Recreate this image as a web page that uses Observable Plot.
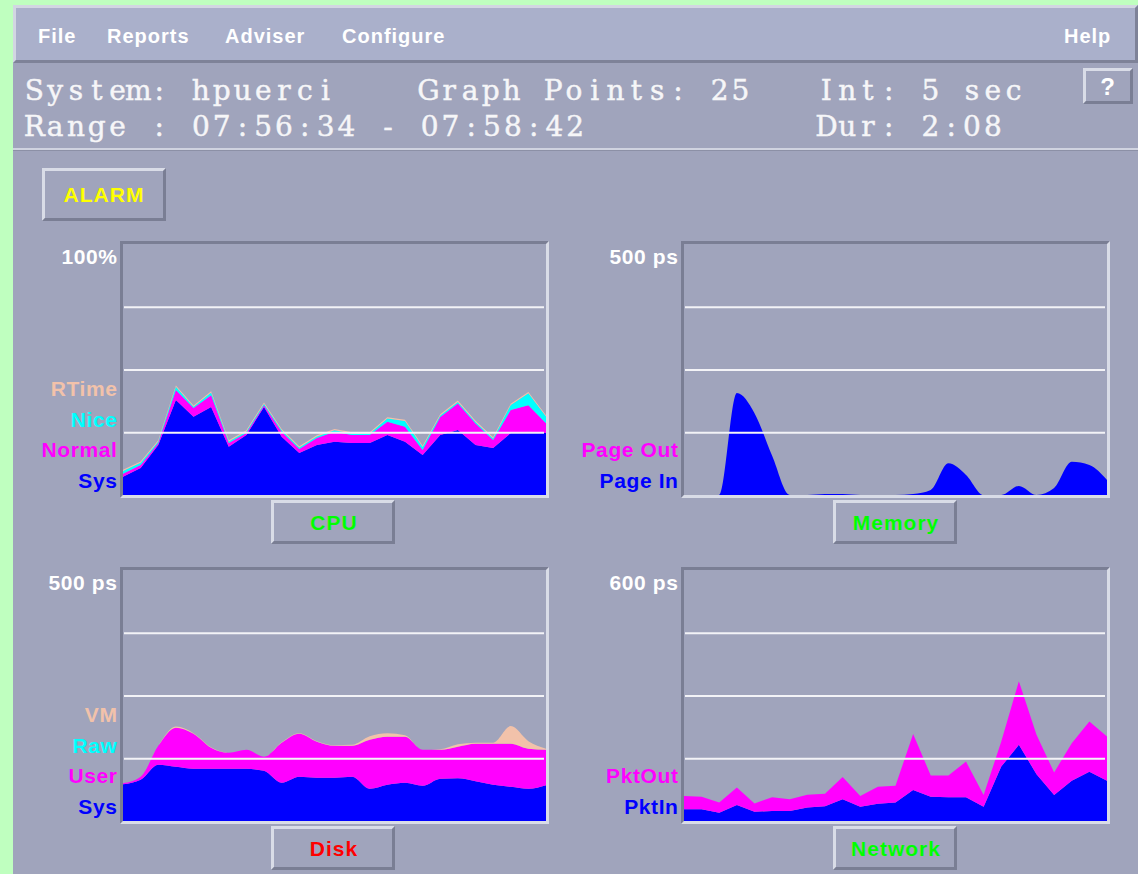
<!DOCTYPE html>
<html><head><meta charset="utf-8">
<script src="https://cdn.jsdelivr.net/npm/d3@7"></script>
<script src="https://cdn.jsdelivr.net/npm/@observablehq/plot@0.6"></script>
<style>
html,body{margin:0;padding:0;}
body{width:1138px;height:874px;background:#bfffbf;position:relative;overflow:hidden;font-family:"Liberation Sans",Arial,sans-serif;}
#chrome{position:absolute;left:0;top:0;}
.panel{position:absolute;z-index:1;}
</style>
</head><body>
<svg id="chrome" width="1138" height="874"></svg>
<script>
// ---------- data ----------
const samples = [0,1,2,3,4,5,6,7,8,9,10,11,12,13,14,15,16,17,18,19,20,21,22,23,24];

const cpuSeries = ["Sys","Normal","Nice","RTime"];
const cpuSys    = [7.3,10.8,19.9,37.8,31.2,35.1,19.2,23.9,35.1,23.2,16.7,19.9,21.2,20.7,20.7,23.9,21.2,15.9,23.9,25.9,19.9,18.7,24.7,25.2,24.7];
const cpuNormal = [1.2,1.2,0.8,4.0,3.5,4.6,1.5,0.8,0.7,2.0,1.6,2.8,4.0,3.2,3.2,5.3,6.0,2.0,7.2,10.6,8.6,3.2,9.2,10.6,3.9];
const cpuNice   = [1.1,0.8,0.6,1.3,0.5,1.1,0.6,0.6,0.6,0.6,0.6,0.6,0.6,0.6,0.6,1.3,2.3,1.2,0.6,0.6,0.6,0.6,2.0,4.7,2.7];
const cpuRTime  = [0.5,0.5,0.5,0.5,0.5,0.5,0.5,0.5,0.5,0.5,0.5,0.5,0.5,0.5,0.5,0.5,0.5,0.5,0.5,0.5,0.5,0.5,0.5,0.5,0.5];
const cpuTicks  = [25,50,75];

const memSeries  = ["Page In","Page Out"];
const memPageIn  = [0,0,0,203,163,78,0,0,2,2,0,0,0,2,10,63,40,0,0,18,0,14,66,60,30];
const memPageOut = [0,0,0,0,0,0,0,0,0,0,0,0,0,0,0,0,0,0,0,0,0,0,0,0,0];
const memTicks   = [125,250,375];

const diskSeries = ["Sys","User","Raw","VM"];
const diskSys  = [73,82,112,108,104,104,104,104,100,76,88,86,86,88,64,72,76,70,84,85,79,72,68,64,71];
const diskUser = [2,6,38,78,70,42,32,38,28,80,86,72,64,62,98,96,92,72,58,63,75,82,86,80,71];
const diskRaw  = [0,0,0,0,0,0,0,0,0,0,0,0,0,0,0,0,0,0,0,0,0,0,0,0,0];
const diskVM   = [0,0,0,2,1,1,0,0,0,1,1,1,1,2,7,7,3,0,1,5,2,2,35,15,2];
const diskTicks = [125,250,375];

const netSeries = ["PktIn","PktOut"];
const netIn  = [28,28,20,38,22,24,24,32,35,52,34,41,44,74,58,57,57,34,130,182,112,62,96,118,96];
const netOut = [32,30,24,42,20,33,28,31,30,53,26,41,40,134,51,52,85,28,60,152,94,54,90,120,106];
const netTicks = [150,300,450];

const menuItems = ["File","Reports","Adviser","Configure","Help"];
const headerLine1 = ["System: hpuerci","Graph Points: 25","Int: 5 sec"];
const headerLine2 = ["Range : 07:56:34 - 07:58:42","Dur: 2:08"];

// palette
const BLUE="#0000ff", MAG="#ff00ff", CYAN="#00ffff", PEACH="#f2c2aa";
const BG="#a0a4bc", BAR="#aab0cb", LIGHT="#d9dce7", DARK="#7a7e94";

// ---------- chrome ----------
const ch = d3.select("#chrome");
function rect(x,y,w,h,fill){ ch.append("rect").attr("x",x).attr("y",y).attr("width",w).attr("height",h).attr("fill",fill); }
function bevel(x,y,w,h,t,tl,br){
  ch.append("polygon").attr("fill",tl).attr("points",[[x,y],[x+w,y],[x+w-t,y+t],[x+t,y+t],[x+t,y+h-t],[x,y+h]].join(" "));
  ch.append("polygon").attr("fill",br).attr("points",[[x+w,y],[x+w,y+h],[x,y+h],[x+t,y+h-t],[x+w-t,y+h-t],[x+w-t,y+t]].join(" "));
}
function label(txt,x,y,size,color,anchor){
  return ch.append("text").text(txt).attr("x",x).attr("y",y).attr("fill",color)
    .attr("font-size",size).attr("font-weight","bold").attr("text-anchor",anchor||"start")
    .attr("font-family","'Liberation Sans',Arial,sans-serif").attr("letter-spacing","1px");
}
rect(13,5,1125,869,BG);
rect(13,5,1125,58,BAR);
bevel(13,5,1125,58,3,"#d2d6e2","#7e8298");
// header separator
rect(13,148,1125,2,"#d0d3e0");
rect(13,150,1125,1,"#8c90a6");

// menu
const menuX = [38,107,225,342,1064];
menuItems.forEach((m,k)=>label(m,menuX[k],43,20,"#ffffff"));

// header text: serif glyphs set on a fixed character grid (like the original monospaced font)
const CELL = 20.8, HSIZE = 28;
const mctx = document.createElement("canvas").getContext("2d");
mctx.font = HSIZE + "px 'DejaVu Serif'";
function mono(txt,x0,y){
  const xs = [...txt].map((c,i)=> x0 + i*CELL + (CELL - mctx.measureText(c).width)/2);
  ch.append("text").text(txt).attr("x",xs.join(" ")).attr("y",y).attr("fill","#f6f6f8")
    .attr("stroke","#f6f6f8").attr("stroke-width",0.45)
    .attr("font-size",HSIZE).attr("font-family","'DejaVu Serif',serif")
    .style("white-space","pre");
}
const h1x=[24,418,816], h2x=[24,816];
headerLine1.forEach((s,k)=>mono(s,h1x[k],100));
headerLine2.forEach((s,k)=>mono(s,h2x[k],136));

// "?" button
bevel(1083,68,50,36,3,LIGHT,DARK);
label("?",1108,95,24,"#ffffff","middle");

// ALARM button
bevel(42,168,124,53,3,LIGHT,DARK);
label("ALARM",104,202,21,"#ffff00","middle");

// panel buttons
const buttons = [
  {t:"CPU",x:271,y:500,c:"#00ff00"},
  {t:"Memory",x:833,y:500,c:"#00ff00"},
  {t:"Disk",x:271,y:826,c:"#ff0000"},
  {t:"Network",x:833,y:826,c:"#00ff00"}
];
buttons.forEach(b=>{ bevel(b.x,b.y,124,44,3,LIGHT,DARK); label(b.t,b.x+63,b.y+30,21,b.c,"middle"); });

// sunken frames around plots
[[120,241],[681,241],[120,567],[681,567]].forEach(([x,y])=>bevel(x,y,429,257,3,DARK,LIGHT));

// ---------- plots ----------
function panel({innerLeft, innerTop, series, colors, values, yMax, ticks, topLabel, curve}){
  const rows = [];
  series.forEach((s,k)=>values[k].forEach((v,i)=>rows.push({t:samples[i], s, v})));
  const mL=108, mT=8, mR=4, mB=4, W=423, H=251;
  const marks = [
    Plot.areaY(rows, {x:"t", y:"v", fill:"s", z:"s", curve}),
    Plot.ruleY(ticks, {stroke:"#f3f3f7", strokeWidth:2, insetLeft:1, insetRight:2}),
    Plot.text([topLabel], {text:d=>d, frameAnchor:"top-left", lineAnchor:"middle", dx:-6, dy:13, textAnchor:"end", fill:"#ffffff", fontSize:21, fontWeight:"bold"}),
    ...series.map((s,k)=>Plot.text([s], {text:d=>d, frameAnchor:"bottom-left", lineAnchor:"middle", dx:-6, dy:-14.5-30.5*k, textAnchor:"end", fill:colors[k], fontSize:21, fontWeight:"bold"}))
  ];
  const svg = Plot.plot({
    width:mL+W+mR, height:mT+H+mB,
    marginLeft:mL, marginTop:mT, marginRight:mR, marginBottom:mB,
    x:{domain:[0,24], axis:null},
    y:{domain:[0,yMax], axis:null},
    color:{domain:series, range:colors},
    style:{background:"transparent", fontFamily:"'Liberation Sans',Arial,sans-serif", letterSpacing:"0.6px", overflow:"visible"},
    marks
  });
  svg.classList.add("panel");
  svg.style.position="absolute";
  svg.style.left=(innerLeft-mL)+"px";
  svg.style.top=(innerTop-mT)+"px";
  svg.style.maxWidth="none";
  document.body.appendChild(svg);
}

panel({innerLeft:123, innerTop:244, series:cpuSeries, colors:[BLUE,MAG,CYAN,PEACH],
  values:[cpuSys,cpuNormal,cpuNice,cpuRTime], yMax:100, ticks:cpuTicks, topLabel:"100%", curve:"linear"});
panel({innerLeft:684, innerTop:244, series:memSeries, colors:[BLUE,MAG],
  values:[memPageIn,memPageOut], yMax:500, ticks:memTicks, topLabel:"500 ps", curve:"monotone-x"});
panel({innerLeft:123, innerTop:570, series:diskSeries, colors:[BLUE,MAG,CYAN,PEACH],
  values:[diskSys,diskUser,diskRaw,diskVM], yMax:500, ticks:diskTicks, topLabel:"500 ps", curve:"monotone-x"});
panel({innerLeft:684, innerTop:570, series:netSeries, colors:[BLUE,MAG],
  values:[netIn,netOut], yMax:600, ticks:netTicks, topLabel:"600 ps", curve:"linear"});
</script>
</body></html>
